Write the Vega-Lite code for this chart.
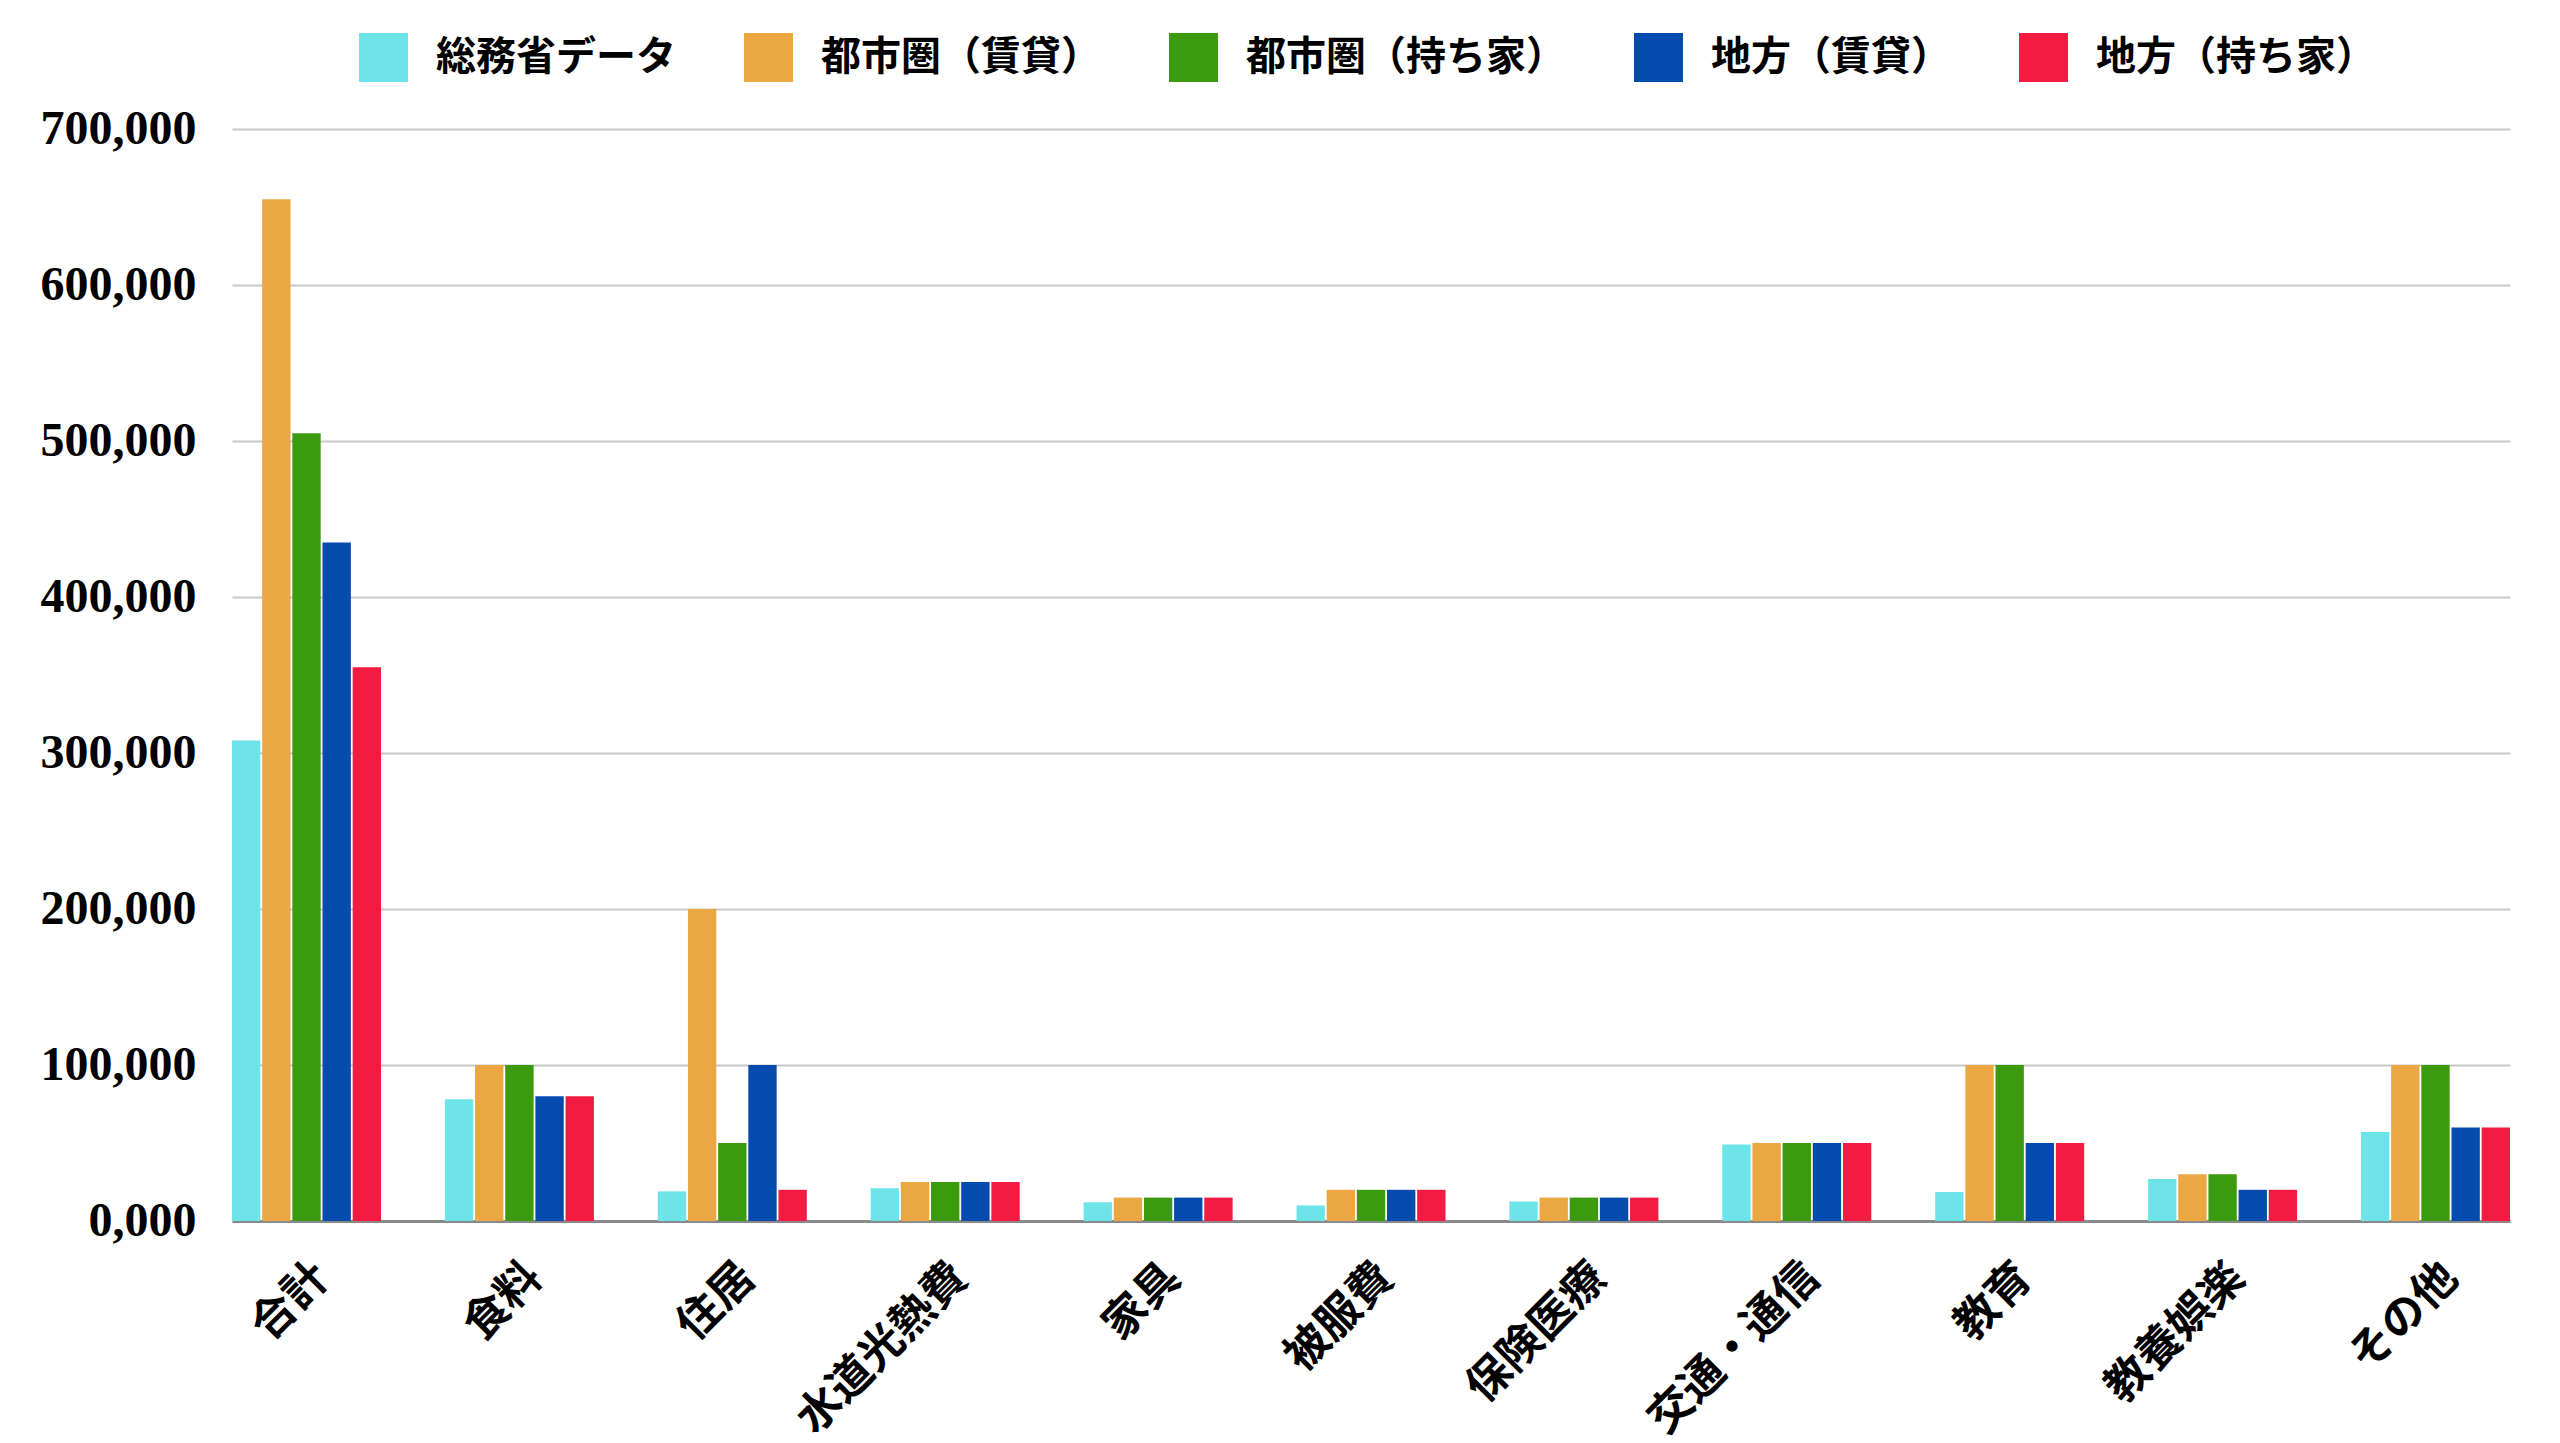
{
  "$schema": "https://vega.github.io/schema/vega-lite/v6.json",
  "width": 2278,
  "height": 1092,
  "padding": {"left": 40, "top": 33, "right": 50, "bottom": 5},
  "background": "white",
  "config": {"view": {"stroke": null}},
  "data": {
    "values": [
      {"category": "合計", "series": "総務省データ", "value": 308000},
      {"category": "合計", "series": "都市圏（賃貸）", "value": 655000},
      {"category": "合計", "series": "都市圏（持ち家）", "value": 505000},
      {"category": "合計", "series": "地方（賃貸）", "value": 435000},
      {"category": "合計", "series": "地方（持ち家）", "value": 355000},
      {"category": "食料", "series": "総務省データ", "value": 78000},
      {"category": "食料", "series": "都市圏（賃貸）", "value": 100000},
      {"category": "食料", "series": "都市圏（持ち家）", "value": 100000},
      {"category": "食料", "series": "地方（賃貸）", "value": 80000},
      {"category": "食料", "series": "地方（持ち家）", "value": 80000},
      {"category": "住居", "series": "総務省データ", "value": 19000},
      {"category": "住居", "series": "都市圏（賃貸）", "value": 200000},
      {"category": "住居", "series": "都市圏（持ち家）", "value": 50000},
      {"category": "住居", "series": "地方（賃貸）", "value": 100000},
      {"category": "住居", "series": "地方（持ち家）", "value": 20000},
      {"category": "水道光熱費", "series": "総務省データ", "value": 21000},
      {"category": "水道光熱費", "series": "都市圏（賃貸）", "value": 25000},
      {"category": "水道光熱費", "series": "都市圏（持ち家）", "value": 25000},
      {"category": "水道光熱費", "series": "地方（賃貸）", "value": 25000},
      {"category": "水道光熱費", "series": "地方（持ち家）", "value": 25000},
      {"category": "家具", "series": "総務省データ", "value": 12000},
      {"category": "家具", "series": "都市圏（賃貸）", "value": 15000},
      {"category": "家具", "series": "都市圏（持ち家）", "value": 15000},
      {"category": "家具", "series": "地方（賃貸）", "value": 15000},
      {"category": "家具", "series": "地方（持ち家）", "value": 15000},
      {"category": "被服費", "series": "総務省データ", "value": 10000},
      {"category": "被服費", "series": "都市圏（賃貸）", "value": 20000},
      {"category": "被服費", "series": "都市圏（持ち家）", "value": 20000},
      {"category": "被服費", "series": "地方（賃貸）", "value": 20000},
      {"category": "被服費", "series": "地方（持ち家）", "value": 20000},
      {"category": "保険医療", "series": "総務省データ", "value": 12500},
      {"category": "保険医療", "series": "都市圏（賃貸）", "value": 15000},
      {"category": "保険医療", "series": "都市圏（持ち家）", "value": 15000},
      {"category": "保険医療", "series": "地方（賃貸）", "value": 15000},
      {"category": "保険医療", "series": "地方（持ち家）", "value": 15000},
      {"category": "交通・通信", "series": "総務省データ", "value": 49000},
      {"category": "交通・通信", "series": "都市圏（賃貸）", "value": 50000},
      {"category": "交通・通信", "series": "都市圏（持ち家）", "value": 50000},
      {"category": "交通・通信", "series": "地方（賃貸）", "value": 50000},
      {"category": "交通・通信", "series": "地方（持ち家）", "value": 50000},
      {"category": "教育", "series": "総務省データ", "value": 18600},
      {"category": "教育", "series": "都市圏（賃貸）", "value": 100000},
      {"category": "教育", "series": "都市圏（持ち家）", "value": 100000},
      {"category": "教育", "series": "地方（賃貸）", "value": 50000},
      {"category": "教育", "series": "地方（持ち家）", "value": 50000},
      {"category": "教養娯楽", "series": "総務省データ", "value": 27000},
      {"category": "教養娯楽", "series": "都市圏（賃貸）", "value": 30000},
      {"category": "教養娯楽", "series": "都市圏（持ち家）", "value": 30000},
      {"category": "教養娯楽", "series": "地方（賃貸）", "value": 20000},
      {"category": "教養娯楽", "series": "地方（持ち家）", "value": 20000},
      {"category": "その他", "series": "総務省データ", "value": 57000},
      {"category": "その他", "series": "都市圏（賃貸）", "value": 100000},
      {"category": "その他", "series": "都市圏（持ち家）", "value": 100000},
      {"category": "その他", "series": "地方（賃貸）", "value": 60000},
      {"category": "その他", "series": "地方（持ち家）", "value": 60000}
    ]
  },
  "mark": {"type": "bar"},
  "encoding": {
    "x": {
      "field": "category",
      "type": "nominal",
      "sort": null,
      "title": null,
      "scale": {"paddingInner": 0.3, "paddingOuter": 0},
      "axis": {
        "labelAngle": -45,
        "labelAlign": "right",
        "labelBaseline": "top",
        "labelFont": "Noto Sans CJK JP",
        "labelFontWeight": "bold",
        "labelFontSize": 44,
        "labelColor": "#000000",
        "labelPadding": 34,
        "labelLimit": 1000,
        "ticks": false,
        "domainColor": "#8a8a8a",
        "domainWidth": 3
      }
    },
    "xOffset": {
      "field": "series",
      "type": "nominal",
      "sort": null,
      "scale": {"paddingInner": 0.06}
    },
    "y": {
      "field": "value",
      "type": "quantitative",
      "title": null,
      "scale": {"domain": [0, 700000]},
      "axis": {
        "values": [0, 100000, 200000, 300000, 400000, 500000, 600000, 700000],
        "labelExpr": "datum.value == 0 ? '0,000' : format(datum.value, ',')",
        "labelFont": "Liberation Serif",
        "labelFontWeight": "bold",
        "labelFontSize": 48,
        "labelColor": "#000000",
        "labelPadding": 36,
        "ticks": false,
        "domain": false,
        "gridColor": "#c8c8c8",
        "gridWidth": 2
      }
    },
    "color": {
      "field": "series",
      "type": "nominal",
      "sort": null,
      "title": null,
      "scale": {
        "domain": ["総務省データ", "都市圏（賃貸）", "都市圏（持ち家）", "地方（賃貸）", "地方（持ち家）"],
        "range": ["#6de5e8", "#eba742", "#3c9a0e", "#034cad", "#f41b43"]
      },
      "legend": {
        "orient": "none",
        "legendX": 127,
        "legendY": -96,
        "direction": "horizontal",
        "symbolType": "square",
        "symbolSize": 2400,
        "symbolStrokeWidth": 0,
        "labelFont": "Noto Sans CJK JP",
        "labelFontWeight": "bold",
        "labelFontSize": 40,
        "labelColor": "#000000",
        "labelOffset": 28,
        "columnPadding": 68,
        "labelLimit": 500
      }
    }
  }
}
